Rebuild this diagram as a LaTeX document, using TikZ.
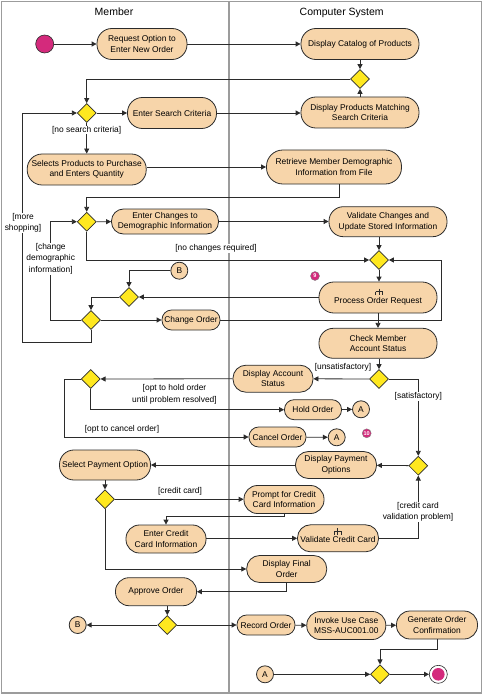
\documentclass[tikz,border=0pt]{standalone}
\usepackage{fontspec}
\setmainfont{Liberation Sans}
\usetikzlibrary{arrows.meta,shapes.geometric}
\definecolor{peach}{HTML}{F7D5AA}
\definecolor{dyel}{HTML}{FFE81F}
\definecolor{mag}{HTML}{D42A7C}
\definecolor{framec}{HTML}{9C9C9C}
\definecolor{lc}{HTML}{2B2B2B}
\tikzset{
 txt/.style={font=\fontsize{8.4}{10.5}\selectfont},
 act/.style 2 args={draw=lc, fill=peach, line width=0.8pt, rounded corners=#2*0.48, minimum width=#1, minimum height=#2, inner sep=0pt, align=center, txt},
 dec/.style={diamond, aspect=1, draw=lc, fill=dyel, line width=0.7pt, minimum width=19pt, minimum height=19pt, inner sep=0pt},
 conn/.style={circle, draw=lc, fill=peach, line width=0.8pt, minimum size=17pt, inner sep=0pt, txt},
 arr/.style={draw=lc, line width=0.8pt, -{Triangle[length=5pt,width=5pt]}},
 lab/.style={fill=white, inner sep=0.5pt, align=center, font=\fontsize{8.4}{11.5}\selectfont},
 badge/.style={circle, fill=mag, draw=lc!60, line width=0.4pt, minimum size=9pt, inner sep=0pt, text=white, font=\fontsize{5.5}{6}\selectfont\bfseries},
 hdr/.style={anchor=base, font=\fontsize{10.5}{12}\selectfont},
 rake/.pic={\draw[lc, line width=0.6pt] (0,0)--(0,6.5) (-3.5,3)--(3.5,3) (-3.5,3)--(-3.5,6.5) (3.5,3)--(3.5,6.5);}
}
\begin{document}
\begin{tikzpicture}[x=1pt,y=-1pt]
\useasboundingbox (0,0) rectangle (483,695);
\draw[framec, line width=1.3pt] (1.5,1.5) rectangle (481.5,693);
\draw[framec, line width=1.3pt] (229,1.5) -- (229,693);
\node[hdr] (hm) at (114,15.7) {Member};
\node[hdr] (hc) at (341.7,15.7) {Computer System};

% nodes
\node[circle, fill=mag, draw=lc, line width=0.6pt, minimum size=18pt, inner sep=0pt] (start) at (44.7,44) {};
\node[act={90pt}{31pt}] (req) at (142,44) {Request Option to\\Enter New Order};
\node[act={118pt}{31pt}] (cat) at (360,44) {Display Catalog of Products};
\node[dec] (d1) at (360,79) {};
\node[act={118pt}{31pt}] (dpm) at (360,112.5) {Display Products Matching\\Search Criteria};
\node[dec] (d2) at (86.7,113) {};
\node[act={89pt}{31pt}] (esc) at (172,113) {Enter Search Criteria};
\node[act={119pt}{31pt}] (sel) at (86.7,169.5) {Selects Products to Purchase\\and Enters Quantity};
\node[act={135pt}{34pt}] (ret) at (334,167) {Retrieve Member Demographic\\Information from File};
\node[dec] (d3) at (86.7,221.7) {};
\node[act={107pt}{25pt}] (ech) at (165,221.5) {Enter Changes to\\Demographic Information};
\node[act={118pt}{30pt}] (vc) at (388,221.7) {Validate Changes and\\Update Stored Information};
\node[dec] (d4) at (379,260) {};
\node[act={118pt}{31pt}] (por) at (378,297.5) {\raisebox{-3.5pt}[\height][\depth]{Process Order Request}};
\pic at (379,288.5) {rake};
\node[conn] (b1) at (179.3,270.7) {B};
\node[dec] (d5) at (129,297) {};
\node[dec] (d6) at (91,320) {};
\node[act={58pt}{20pt}] (chg) at (191,320) {Change Order};
\node[act={118pt}{30pt}] (chk) at (378,343.3) {Check Member\\Account Status};
\node[dec] (d7) at (379,379) {};
\node[act={80pt}{27pt}] (das) at (273,378.7) {Display Account\\Status};
\node[dec] (d9) at (90.7,379) {};
\node[act={57pt}{20pt}] (hold) at (313,409.7) {Hold Order};
\node[conn] (a1) at (361,409.3) {A};
\node[act={57pt}{20pt}] (cancel) at (277.5,437) {Cancel Order};
\node[conn] (a2) at (336.7,437.3) {A};
\node[dec] (d8) at (418.3,465.7) {};
\node[act={81pt}{27pt}] (dpo) at (336,465) {Display Payment\\Options};
\node[act={91pt}{30pt}] (spo) at (105,465) {Select Payment Option};
\node[dec] (d10) at (105,499.3) {};
\node[act={80pt}{28pt}] (pcc) at (284,499.5) {Prompt for Credit\\Card Information};
\node[act={80pt}{28pt}] (ecc) at (166,539) {Enter Credit\\Card Information};
\node[act={81pt}{27pt}] (vcc) at (338,538.3) {\raisebox{-1.5pt}[\height][\depth]{Validate Credit Card}};
\pic at (337.3,528.3) {rake};
\node[act={80pt}{27pt}] (dfo) at (286.7,569) {Display Final\\Order};
\node[act={81pt}{28pt}] (apo) at (156,591.7) {Approve Order};
\node[dec] (d11) at (167.3,625) {};
\node[conn] (b2) at (77.7,625) {B};
\node[act={58pt}{20pt}] (rec) at (266,625) {Record Order};
\node[act={79pt}{28pt}] (inv) at (346.3,625.5) {Invoke Use Case\\MSS-AUC001.00};
\node[act={81pt}{28pt}] (gen) at (437,625) {Generate Order\\Confirmation};
\node[dec] (d12) at (380,674.3) {};
\node[conn] (a3) at (265,674.3) {A};
\node[circle, draw=lc, fill=white, line width=0.6pt, minimum size=18pt, inner sep=0pt, path picture={\fill[mag] (path picture bounding box.center) circle (6.3pt);}] (end) at (438.3,674.3) {};
\node[badge] (n9) at (315,276) {9};
\node[badge] (n10) at (366.7,433.3) {10};

% helper coordinates
\coordinate (rl) at (441.7,320);
\coordinate (ms) at (22.7,342.7);
\coordinate (cd) at (50.7,320);
\coordinate (oc) at (64,379);

% connectors
\draw[arr] (start) -- (req);
\draw[arr] (req) -- (cat);
\draw[arr] (cat) -- (d1);
\draw[arr] (dpm) -- (d1);
\draw[arr] (d1.west) -| (d2.north);
\draw[arr] (d2) -- (esc);
\draw[arr] (esc.east) -- (esc.east -| dpm.west);
\draw[arr] (d2) -- (sel);
\draw[arr] (sel.east |- ret) -- (ret.west);
\draw[arr] ([xshift=5pt]ret.south) -- ++(0,13) -| (d3.north);
\draw[arr] (d3) -- (ech);
\draw[arr] (ech.east) -- (ech.east -| vc.west);
\draw[arr] (vc.south -| d4) -- (d4);
\draw[arr] (d3.south) |- (d4.west);
\draw[arr] (d4) -- (por.north -| d4);
\draw[arr] (por) -- (chk);
\draw[arr] (chg.east) -- (rl) |- (d4.east);
\draw[arr] (por.west |- d5) -- (d5.east);
\draw[arr] (b1.west) -| (d5.north);
\draw[arr] (d5.west) -| (d6.north);
\draw[arr] (d6) -- (chg);
\draw[arr] (d6.south) |- (ms) |- (d2.west);
\draw[arr] (d6.west) -- (cd) |- (d3.west);
\draw[arr] (chk.south -| d7) -- (d7);
\draw[arr] (d7) -- (das);
\draw[arr] (d7.east) -| (d8.north);
\draw[arr] (das) -- (d9);
\draw[arr] (d9.south) |- (hold.west);
\draw[arr] (hold) -- (a1);
\draw[arr] (d9.west) -- (oc) |- (cancel.west);
\draw[arr] (cancel) -- (a2);
\draw[arr] (d8) -- (dpo);
\draw[arr] (dpo) -- (spo);
\draw[arr] (spo) -- (d10);
\draw[arr] (d10) -- (pcc.west |- d10);
\draw[arr] (pcc.south) -- ++(0,2.5) -| (ecc.north);
\draw[arr] (ecc.east |- vcc) -- (vcc.west);
\draw[arr] (vcc.east) -| (d8.south);
\draw[arr] (d10.south) |- (dfo.west);
\draw[arr] (dfo.south) |- (apo.east);
\draw[arr] (apo.south -| d11) -- (d11);
\draw[arr] (d11) -- (b2);
\draw[arr] (d11) -- (rec);
\draw[arr] (rec) -- (inv);
\draw[arr] (inv) -- (gen);
\draw[arr] (gen.south) -- ++(0,10.3) -| (d12.north);
\draw[arr] (a3) -- (d12);
\draw[arr] (d12) -- (end);

% labels
\node[lab] (l1) at (86.7,130) {[no search criteria]};
\node[lab] (l2) at (23,223) {[more\\shopping]};
\node[lab] (l3) at (50.7,258.7) {[change\\demographic\\information]};
\node[lab] (l4) at (216,248.7) {[no changes required]};
\node[lab] (l5) at (343,367) {[unsatisfactory]};
\node[lab] (l6) at (418.3,396.7) {[satisfactory]};
\node[lab] (l7) at (174.5,394.5) {[opt to hold order\\until problem resolved]};
\node[lab] (l8) at (122,429.3) {[opt to cancel order]};
\node[lab] (l9) at (180,491) {[credit card]};
\node[lab] (l10) at (418,511.7) {[credit card\\validation problem]};
\end{tikzpicture}
\end{document}
